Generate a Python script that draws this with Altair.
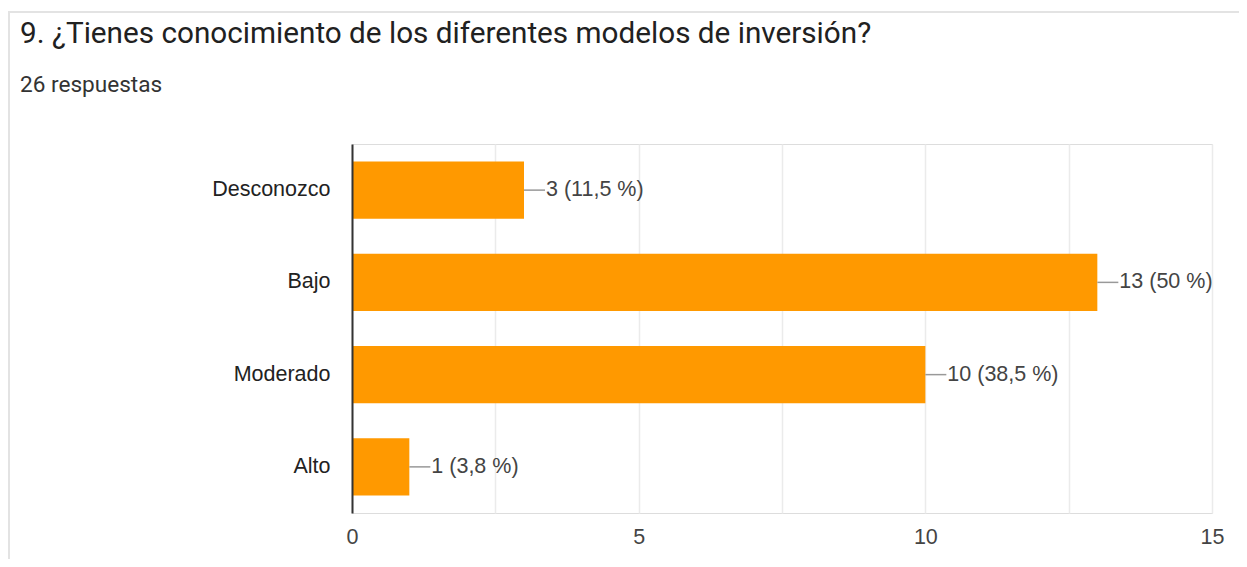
import altair as alt
import pandas as pd

categories = ["Desconozco", "Bajo", "Moderado", "Alto"]
counts = [3, 13, 10, 1]
labels = ["3 (11,5 %)", "13 (50 %)", "10 (38,5 %)", "1 (3,8 %)"]
title_text = "9. ¿Tienes conocimiento de los diferentes modelos de inversión?"
subtitle_text = "26 respuestas"
grid_values = [0, 2.5, 5, 7.5, 10, 12.5, 15]

df = pd.DataFrame({"cat": categories, "count": counts, "label": labels})
one = pd.DataFrame({"k": [0]})

FS = 21.5

y_enc = alt.Y(
    "cat:N",
    sort=categories,
    scale=alt.Scale(paddingInner=0.38, paddingOuter=0.19),
    axis=alt.Axis(
        title=None, domainColor="#333333", domainWidth=2, ticks=False,
        labelPadding=22, labelFont="Liberation Sans", labelFontSize=FS,
        labelColor="#222222", grid=False, zindex=1,
    ),
)
x_enc = alt.X(
    "count:Q",
    scale=alt.Scale(domain=[0, 15], nice=False),
    axis=alt.Axis(
        title=None, values=grid_values, format="d",
        labelExpr="datum.value % 5 == 0 ? format(datum.value, 'd') : ''",
        labelFlush=False, labelOverlap=False,
        domain=False, ticks=False, gridColor="#ebebeb", gridWidth=1.5,
        labelPadding=13, labelFont="Liberation Sans", labelFontSize=FS,
        labelColor="#444444",
    ),
)

base = alt.Chart(df)
bars = base.mark_bar(color="#ff9900").encode(x=x_enc, y=y_enc)
connectors = base.mark_rule(color="#999999", strokeWidth=1.5, x2Offset=21).encode(
    x="count:Q", x2="count:Q", y=alt.Y("cat:N", sort=categories)
)
texts = base.mark_text(
    align="left", baseline="middle", dx=22, font="Liberation Sans",
    fontSize=FS, color="#444444",
).encode(x="count:Q", y=alt.Y("cat:N", sort=categories), text="label:N")

title = alt.Chart(one).mark_text(
    align="left", baseline="alphabetic", font="Roboto", fontSize=29.7, color="#212121"
).encode(x=alt.value(-332), y=alt.value(-101), text=alt.value(title_text))
subtitle = alt.Chart(one).mark_text(
    align="left", baseline="alphabetic", font="Roboto", fontSize=22.6, color="#333333"
).encode(x=alt.value(-332), y=alt.value(-52), text=alt.value(subtitle_text))

card_top = alt.Chart(one).mark_rule(color="#e3e3e3", strokeWidth=2).encode(
    x=alt.value(-344), x2=alt.value(887), y=alt.value(-132)
)
card_left = alt.Chart(one).mark_rule(color="#e3e3e3", strokeWidth=2).encode(
    x=alt.value(-343), y=alt.value(-133), y2=alt.value(415)
)

chart = alt.layer(card_top, card_left, bars, connectors, texts, title, subtitle).properties(
    width=860,
    height=369,
    padding={"left": 344, "top": 136, "right": 27, "bottom": 46},
    autosize=alt.AutoSizeParams(type="none"),
).configure_view(stroke="#e6e6e6", strokeWidth=1.5).configure(background="white")

chart.save("out.html", embed_options={"renderer": "svg", "actions": False})
